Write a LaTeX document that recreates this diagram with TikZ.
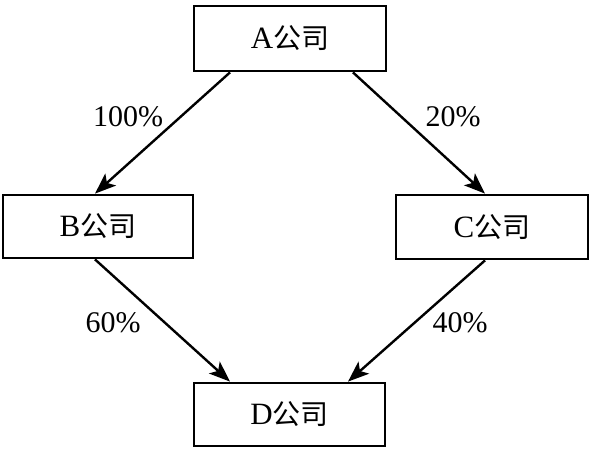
\documentclass[tikz,border=0pt]{standalone}
\usepackage{fontspec}
\setmainfont{Liberation Serif}
\newfontfamily\cjk{Noto Sans CJK SC}
\usetikzlibrary{arrows.meta}
\begin{document}
\begin{tikzpicture}[x=1pt,y=-1pt,
  box/.style={draw, line width=2.8pt, inner sep=0pt, font=\fontsize{31}{34}\selectfont},
  link/.style={line width=2.4pt, -{Stealth[length=21pt,width=16pt,inset=5pt]}},
  pct/.style={font=\fontsize{30}{32}\selectfont, inner sep=0pt}]
\useasboundingbox (0,0) rectangle (594,451);
\node[box, minimum width=192pt, minimum height=65pt] (A) at (290,38.5) {A{\cjk\fontsize{28}{30}\selectfont 公司}};
\node[box, minimum width=190pt, minimum height=63pt] (B) at (98,226.5) {B{\cjk\fontsize{28}{30}\selectfont 公司}};
\node[box, minimum width=192pt, minimum height=64pt] (C) at (492,227) {C{\cjk\fontsize{28}{30}\selectfont 公司}};
\node[box, minimum width=191pt, minimum height=63pt] (D) at (289.5,414.5) {D{\cjk\fontsize{28}{30}\selectfont 公司}};
\draw[link] ([xshift=-60pt]A.south) -- ([xshift=-3pt]B.north);
\draw[link] ([xshift=63pt]A.south) -- ([xshift=-7pt]C.north);
\draw[link] ([xshift=-3pt]B.south) -- ([xshift=-59.5pt]D.north);
\draw[link] ([xshift=-7pt]C.south) -- ([xshift=58.5pt]D.north);
\node[pct] (p1) at (128,117) {100\%};
\node[pct] (p2) at (453,117) {20\%};
\node[pct] (p3) at (113,323) {60\%};
\node[pct] (p4) at (460,323) {40\%};
\end{tikzpicture}
\end{document}
